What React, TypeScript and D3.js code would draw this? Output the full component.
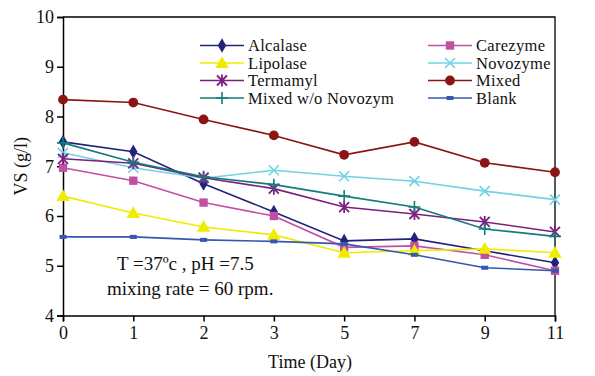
import React, { useEffect, useRef } from 'react'
import { select, scaleLinear, scalePoint, axisBottom, axisLeft, line, symbol, symbolDiamond, symbolSquare, symbolTriangle, symbolCircle } from 'd3'

const days = ['0', '1', '2', '3', '5', '7', '9', '11']
const yTicks = [4, 5, 6, 7, 8, 9, 10]

const alcalase = [7.49, 7.29, 6.65, 6.08, 5.5, 5.54, 5.3, 5.06]
const carezyme = [6.97, 6.71, 6.27, 6.0, 5.37, 5.4, 5.22, 4.9]
const lipolase = [6.4, 6.06, 5.78, 5.62, 5.26, 5.3, 5.34, 5.26]
const novozyme = [7.27, 6.97, 6.76, 6.92, 6.8, 6.7, 6.5, 6.33]
const termamyl = [7.15, 7.06, 6.77, 6.55, 6.18, 6.04, 5.88, 5.68]
const mixed = [8.34, 8.28, 7.94, 7.62, 7.23, 7.49, 7.07, 6.88]
const mixedNoNovo = [7.47, 7.08, 6.79, 6.63, 6.4, 6.18, 5.74, 5.59]
const blank = [5.58, 5.58, 5.52, 5.49, 5.44, 5.22, 4.96, 4.9]

const series = [
  { name: 'Alcalase', values: alcalase, color: '#22227a', marker: 'diamond' },
  { name: 'Carezyme', values: carezyme, color: '#c150a3', marker: 'square' },
  { name: 'Lipolase', values: lipolase, color: '#f0ec00', marker: 'triangle' },
  { name: 'Novozyme', values: novozyme, color: '#6fd3e3', marker: 'x' },
  { name: 'Termamyl', values: termamyl, color: '#7d1f7f', marker: 'star' },
  { name: 'Mixed', values: mixed, color: '#8a1515', marker: 'circle' },
  { name: 'Mixed w/o Novozym', values: mixedNoNovo, color: '#127c7c', marker: 'plus' },
  { name: 'Blank', values: blank, color: '#3657b0', marker: 'dash' }
]

const W = 595
const H = 376
const margin = { left: 63, right: 40, top: 17, bottom: 60.5 }
const font = 'Liberation Serif, Times New Roman, serif'

// draws one marker centred on (0,0) inside g
const drawMarker = (g, type, color) => {
  if (type === 'diamond') {
    g.append('path').attr('d', symbol(symbolDiamond, 60)()).attr('fill', color)
  } else if (type === 'square') {
    g.append('path').attr('d', symbol(symbolSquare, 70)()).attr('fill', color)
  } else if (type === 'triangle') {
    g.append('path').attr('d', symbol(symbolTriangle, 80)()).attr('fill', color)
      .attr('transform', 'translate(0,1)')
  } else if (type === 'circle') {
    g.append('path').attr('d', symbol(symbolCircle, 75)()).attr('fill', color)
  } else if (type === 'x') {
    g.append('path').attr('d', 'M-5,-5L5,5M-5,5L5,-5').attr('stroke', color).attr('stroke-width', 1.6)
  } else if (type === 'plus') {
    g.append('path').attr('d', 'M-6,0L6,0M0,-6L0,6').attr('stroke', color).attr('stroke-width', 1.6)
  } else if (type === 'star') {
    g.append('path').attr('d', 'M-5,-5L5,5M-5,5L5,-5M0,-6L0,6').attr('stroke', color).attr('stroke-width', 1.8)
  } else if (type === 'dash') {
    g.append('rect').attr('x', -3.5).attr('y', -2).attr('width', 7).attr('height', 4).attr('fill', color)
  }
}

const label = (sel, size = 18) => sel.style('font-family', font).style('font-size', `${size}px`).attr('fill', '#111')

const App = () => {
  const svgRef = useRef()

  useEffect(() => {
    const svg = select(svgRef.current)
    svg.selectAll('*').remove()

    const xScale = scalePoint().domain(days).range([margin.left, W - margin.right])
    const yScale = scaleLinear().domain([4, 10]).range([H - margin.bottom, margin.top])

    // frame top + right
    svg.append('path')
      .attr('d', `M${margin.left},${margin.top}H${W - margin.right}V${H - margin.bottom}`)
      .attr('fill', 'none').attr('stroke', '#000').attr('stroke-width', 1.3)

    const xAxis = axisBottom(xScale).tickSizeOuter(0).tickSize(6).tickPadding(5)
    const gx = svg.append('g')
      .attr('transform', `translate(0,${H - margin.bottom})`)
      .call(xAxis)
    const yAxis = axisLeft(yScale).tickValues(yTicks).tickFormat(d => String(d))
      .tickSizeOuter(0).tickSize(6).tickPadding(3)
    const gy = svg.append('g')
      .attr('transform', `translate(${margin.left},0)`)
      .call(yAxis)

    ;[gx, gy].forEach(g => {
      g.attr('font-family', null).attr('font-size', null)
      g.selectAll('path, line').attr('stroke', '#000').attr('stroke-width', 1.5)
      g.selectAll('text').call(label)
    })

    const lineGen = line().x((d, i) => xScale(days[i])).y(d => yScale(d))

    series.forEach(s => {
      svg.append('path')
        .datum(s.values)
        .attr('d', lineGen)
        .attr('fill', 'none')
        .attr('stroke', s.color)
        .attr('stroke-width', 1.6)
      s.values.forEach((v, i) => {
        const g = svg.append('g').attr('transform', `translate(${xScale(days[i])},${yScale(v)})`)
        drawMarker(g, s.marker, s.color)
      })
    })

    // legend
    const legendCols = [200, 428]
    const legendRows = [45.5, 63, 80.5, 98]
    series.forEach((s, i) => {
      const x0 = legendCols[i % 2]
      const y0 = legendRows[Math.floor(i / 2)]
      const g = svg.append('g').attr('transform', `translate(${x0},${y0})`)
      g.append('line').attr('x1', 0).attr('x2', 44).attr('y1', 0).attr('y2', 0)
        .attr('stroke', s.color).attr('stroke-width', 1.6)
      drawMarker(g.append('g').attr('transform', 'translate(22,0)'), s.marker, s.color)
      g.append('text').attr('x', 48).attr('y', 5.5).text(s.name)
        .style('letter-spacing', '0.3px').call(label, 16.5)
    })

    // axis titles
    svg.append('text')
      .attr('x', 310).attr('y', 368)
      .attr('text-anchor', 'middle').text('Time (Day)').call(label)
    svg.append('text')
      .attr('transform', `translate(27,${(margin.top + H - margin.bottom) / 2}) rotate(-90)`)
      .attr('text-anchor', 'middle').text('VS (g/l)').call(label)

    // conditions note
    svg.append('text').attr('x', 117).attr('y', 270).text('T =37ºc , pH =7.5').call(label, 19)
    svg.append('text').attr('x', 107).attr('y', 295).text('mixing rate = 60 rpm.').call(label, 19)
  }, [])

  return <svg ref={svgRef} width={W} height={H}
    style={{ position: 'absolute', left: 0, top: 0, background: '#fff' }} />
}

export default App
